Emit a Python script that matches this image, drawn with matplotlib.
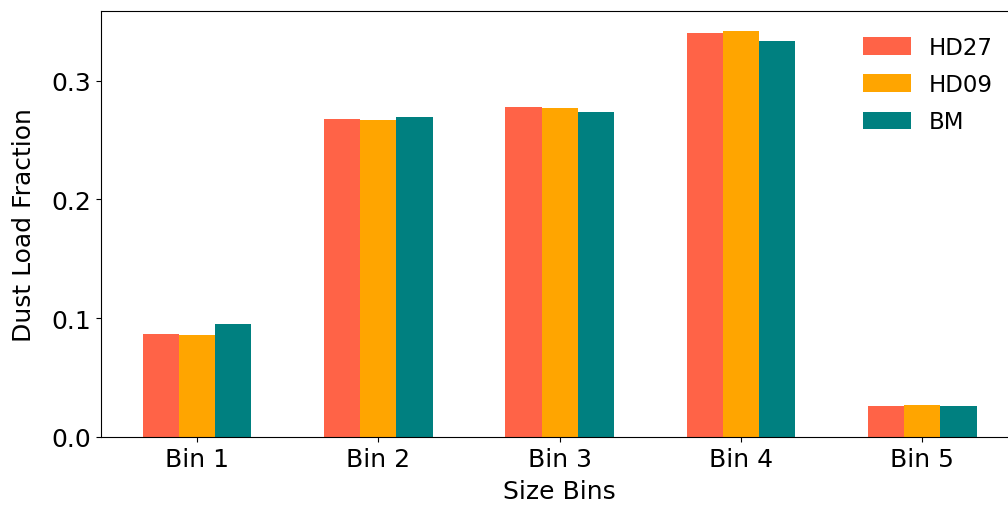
import numpy as np
import matplotlib
matplotlib.use("Agg")
import matplotlib.pyplot as plt

# ── Data ──────────────────────────────────────────────────────────────────────
bins = ["Bin 1", "Bin 2", "Bin 3", "Bin 4", "Bin 5"]
hd27 = [0.0866, 0.2678, 0.2782, 0.3403, 0.0259]
hd09 = [0.0860, 0.2667, 0.2771, 0.3417, 0.0268]
bm = [0.0952, 0.2698, 0.2733, 0.3338, 0.0265]

series = [("HD27", hd27, "tomato"), ("HD09", hd09, "orange"), ("BM", bm, "teal")]

# ── Plot ──────────────────────────────────────────────────────────────────────
fig = plt.figure(figsize=(10.08, 5.06), dpi=100)
ax = fig.add_axes([0.1002, 0.1344, 0.910, 0.842])

x = np.arange(len(bins))
width = 0.2
for i, (name, vals, col) in enumerate(series):
    ax.bar(x + (i - 1) * width, vals, width, color=col, label=name)

ax.set_xticks(x)
ax.set_xticklabels(bins)
ax.set_yticks([0.0, 0.1, 0.2, 0.3])
ax.tick_params(labelsize=18)
ax.set_xlabel("Size Bins", fontsize=18, labelpad=6)
ax.set_ylabel("Dust Load Fraction", fontsize=18, labelpad=11)
ax.legend(fontsize=16.5, frameon=False, loc="upper right",
          bbox_to_anchor=(0.995, 0.99), handlelength=2.1, handleheight=0.8,
          labelspacing=0.62)

fig.savefig("out.png", dpi=100)
